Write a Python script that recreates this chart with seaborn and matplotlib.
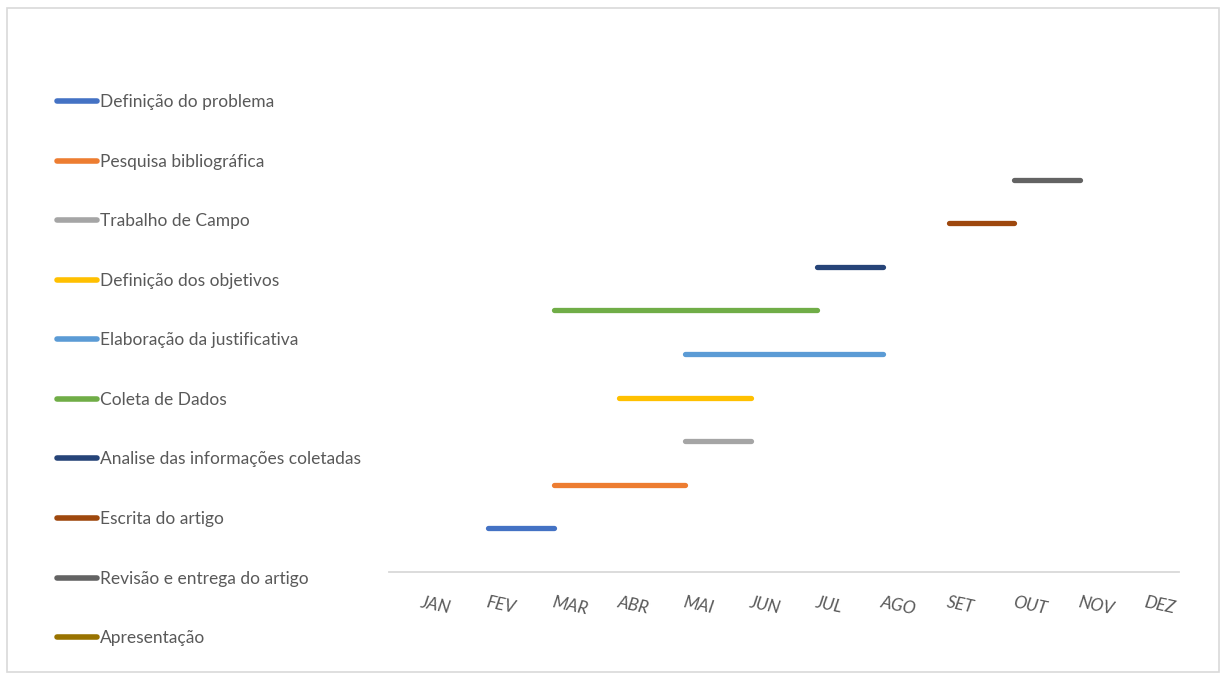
import matplotlib
matplotlib.use("Agg")
import matplotlib.pyplot as plt
import seaborn as sns
import pandas as pd
import numpy as np
from matplotlib.patches import Rectangle
from matplotlib.lines import Line2D

# ---- data ----
months = ["JAN", "FEV", "MAR", "ABR", "MAI", "JUN", "JUL", "AGO", "SET", "OUT", "NOV", "DEZ"]
tasks = ["Definição do problema", "Pesquisa bibliográfica", "Trabalho de Campo",
         "Definição dos objetivos", "Elaboração da justificativa", "Coleta de Dados",
         "Analise das informações coletadas", "Escrita do artigo",
         "Revisão e entrega do artigo", "Apresentação"]
start_month = ["FEV", "MAR", "MAI", "ABR", "MAI", "MAR", "JUL", "SET", "OUT", None]
end_month = ["MAR", "MAI", "JUN", "JUN", "AGO", "JUL", "AGO", "OUT", "NOV", None]
colors = ["#4472C4", "#ED7D31", "#A5A5A5", "#FFC000", "#5B9BD5", "#70AD47",
          "#264478", "#9E480E", "#636363", "#997300"]

rows = []
for i, (t, s, e) in enumerate(zip(tasks, start_month, end_month)):
    for m in (s, e):
        rows.append({"task": t, "x": months.index(m) if m else np.nan,
                     "y": i + 1 if m else np.nan})
df = pd.DataFrame(rows)

sns.set_theme(style="white")
plt.rcParams["font.family"] = ["Lato", "DejaVu Sans"]
text_color = "#595959"

fig = plt.figure(figsize=(12.26, 6.79), dpi=100)
ax = fig.add_axes([389 / 1226, 1 - 572 / 679, (1179 - 389) / 1226, (572 - 100) / 679])

palette = dict(zip(tasks, colors))
sns.lineplot(data=df.dropna(), x="x", y="y", hue="task", hue_order=tasks[:9],
             palette=palette, linewidth=3.8, ax=ax, legend=False, sort=False,
             estimator=None, units="task", solid_capstyle="round")

ax.set_xlim(-0.5, 11.5)
ax.set_ylim(0, (572 - 100) / 43.6)
ax.set_xticks(range(len(months)))
ax.set_xticklabels(months, rotation=-12, ha="left", rotation_mode="anchor",
                   fontstyle="italic", color=text_color, fontsize=12.5)
ax.tick_params(axis="x", length=0, pad=16)
ax.set_yticks([])
ax.set_xlabel("")
ax.set_ylabel("")
for s in ["top", "right", "left"]:
    ax.spines[s].set_visible(False)
ax.spines["bottom"].set_color("#D9D9D9")
ax.spines["bottom"].set_linewidth(1.3)

# legend
handles = [Line2D([0], [0], color=c, lw=4, solid_capstyle="round") for c in colors]
leg = fig.legend(handles, tasks, loc="upper left", bbox_to_anchor=(57 / 1226, 1 - 94 / 679),
                 frameon=False, fontsize=12.5, labelspacing=2.51, handlelength=2.3,
                 handletextpad=0.2, borderaxespad=0, borderpad=0)
for t in leg.get_texts():
    t.set_color(text_color)

# outer frame
fig.patches.append(Rectangle((7 / 1226, 7 / 679), 1212 / 1226, 664 / 679,
                             transform=fig.transFigure, fill=False,
                             edgecolor="#D9D9D9", linewidth=1.2))

fig.savefig("out.png", dpi=100, facecolor="white")
